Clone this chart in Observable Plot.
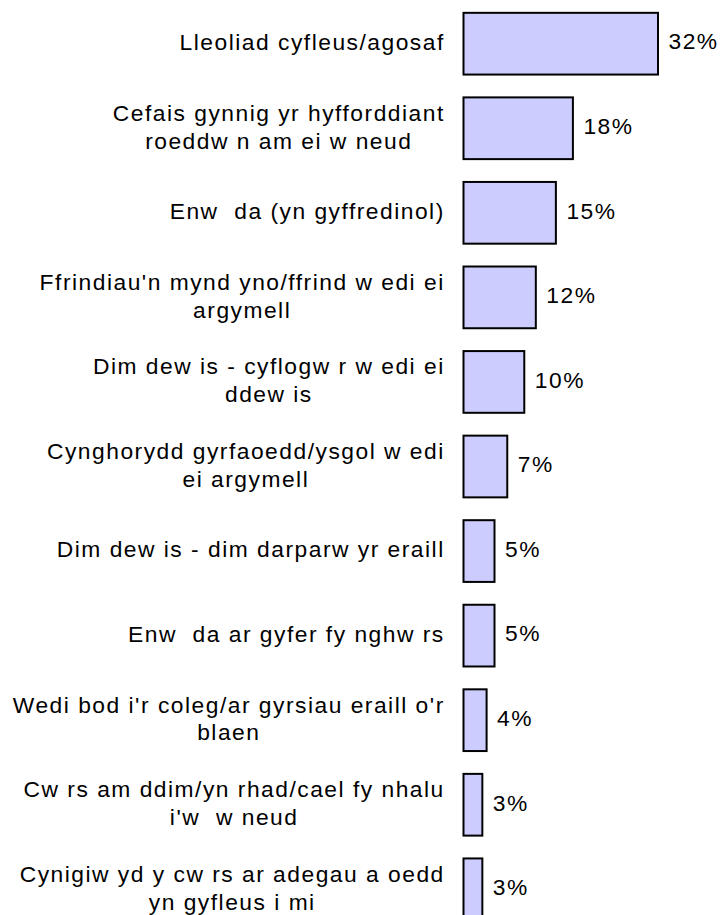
<!DOCTYPE html>
<html>
<head>
<meta charset="utf-8">
<script src="https://cdn.jsdelivr.net/npm/d3@7"></script>
<script src="https://cdn.jsdelivr.net/npm/@observablehq/plot@0.6"></script>
<style>
  html, body { margin: 0; padding: 0; background: #fff; overflow: hidden; }
  #chart svg { display: block; overflow: hidden; }
</style>
</head>
<body>
<div id="chart"></div>
<script>
const categories = [
  "Lleoliad cyfleus/agosaf",
  "Cefais gynnig yr hyfforddiant\nroeddw n am ei w neud",
  "Enw  da (yn gyffredinol)",
  "Ffrindiau'n mynd yno/ffrind w edi ei\nargymell",
  "Dim dew is - cyflogw r w edi ei\nddew is",
  "Cynghorydd gyrfaoedd/ysgol w edi\nei argymell",
  "Dim dew is - dim darparw yr eraill",
  "Enw  da ar gyfer fy nghw rs",
  "Wedi bod i'r coleg/ar gyrsiau eraill o'r\nblaen",
  "Cw rs am ddim/yn rhad/cael fy nhalu\ni'w  w neud",
  "Cynigiw yd y cw rs ar adegau a oedd\nyn gyfleus i mi"
];
const values = [32, 18, 15.2, 11.9, 10, 7.2, 5.1, 5.1, 3.8, 3.1, 3.1];
const valueLabels = ["32%", "18%", "15%", "12%", "10%", "7%", "5%", "5%", "4%", "3%", "3%"];

const FONT_SIZE = 22.8;
const LETTER_SPACING = 1.5;
const FONT_FAMILY = "'Liberation Sans', Arial, sans-serif";
const LABEL_GAP = 20;

const rows = categories.map((c, i) => ({ category: c, value: values[i], label: valueLabels[i] }));

// measure text widths so each multi-line label is centred line-by-line and right-aligned as a block
const ctx = document.createElement("canvas").getContext("2d");
ctx.font = `${FONT_SIZE}px ${FONT_FAMILY}`;
function lineWidth(s) {
  return ctx.measureText(s).width + LETTER_SPACING * (s.length - 1);
}

const labelMarks = rows.map(r => {
  const w = Math.max(...r.category.split("\n").map(lineWidth));
  return Plot.text([r], {
    x: () => 0,
    y: "category",
    text: "category",
    textAnchor: "middle",
    lineAnchor: "middle",
    lineHeight: 1.22,
    dx: -(LABEL_GAP + w / 2),
    dy: -3,
    fill: "#000"
  });
});

const chart = Plot.plot({
  width: 722,
  height: 915,
  margin: 0,
  style: {
    fontFamily: FONT_FAMILY,
    fontSize: `${FONT_SIZE}px`,
    letterSpacing: `${LETTER_SPACING}px`,
    background: "#fff",
    overflow: "hidden"
  },
  x: { domain: [0, 32], range: [463.5, 658], axis: null },
  y: { domain: categories, range: [-10, 943], padding: 0.27, round: false, axis: null },
  marks: [
    Plot.barX(rows, {
      x: "value",
      y: "category",
      fill: "#ccccff",
      stroke: "#000",
      strokeWidth: 2
    }),
    Plot.text(rows, {
      x: "value",
      y: "category",
      text: "label",
      textAnchor: "start",
      lineAnchor: "middle",
      dx: 10,
      dy: -2,
      fill: "#000"
    }),
    ...labelMarks
  ]
});

document.getElementById("chart").appendChild(chart);
</script>
</body>
</html>
